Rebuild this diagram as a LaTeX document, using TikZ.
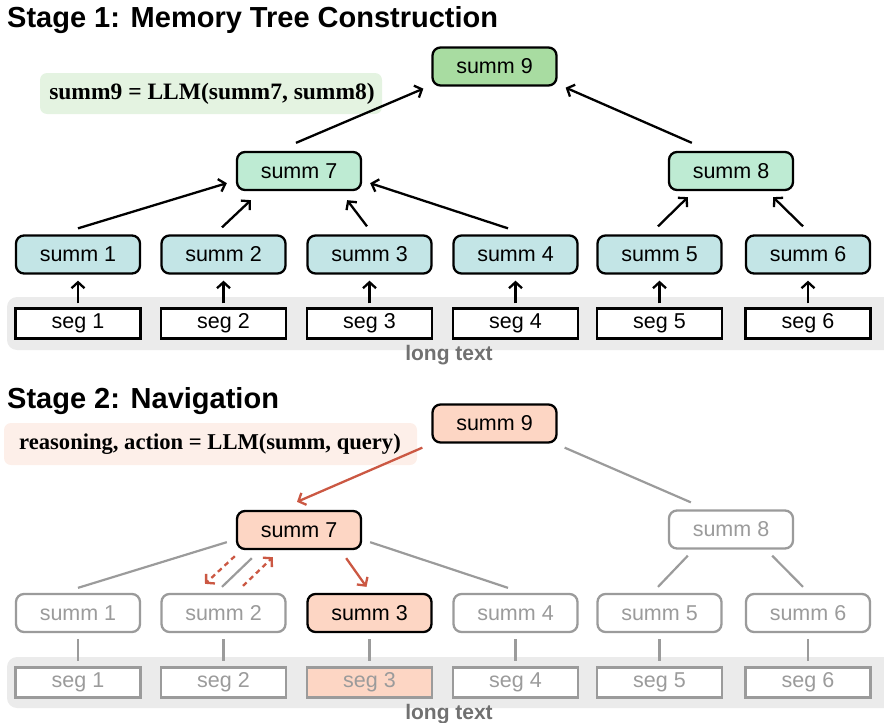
\documentclass[tikz,border=0pt]{standalone}
\usepackage{fontspec}
\setmainfont{Liberation Sans}
\newfontfamily\serfont{Liberation Serif}
\usetikzlibrary{arrows.meta}
\definecolor{rootgreen}{HTML}{A8DCA1}
\definecolor{midgreen}{HTML}{BEEBD3}
\definecolor{leafcyan}{HTML}{C3E5E6}
\definecolor{formgreen}{HTML}{E4F3E1}
\definecolor{formpink}{HTML}{FDEFE9}
\definecolor{salmon}{HTML}{FDD6C4}
\definecolor{navred}{HTML}{CB5843}
\definecolor{bggrey}{HTML}{EBEBEB}
\definecolor{lgrey}{HTML}{9B9B9B}
\definecolor{labgrey}{HTML}{717171}
\begin{document}
\begin{tikzpicture}[x=1pt,y=-1pt,
  boxtext/.style={font=\fontsize{21.5}{25}\selectfont},
  summbox/.style={boxtext,draw=black,line width=2.3pt,rounded corners=8pt,minimum width=124pt,minimum height=38pt,inner sep=0pt},
  segbox/.style={boxtext,draw=black,line width=2.3pt,fill=white,minimum width=125pt,minimum height=30pt,inner sep=0pt},
  greybox/.style={draw=lgrey,text=lgrey,fill=white},
  arr/.style={line width=2.3pt,-{Straight Barb[length=6pt,width=13pt]}},
  redarr/.style={line width=2.3pt,draw=navred,-{Straight Barb[length=6pt,width=13pt]}},
  reddash/.style={redarr,dash pattern=on 5pt off 4pt},
  greyline/.style={line width=2.2pt,draw=lgrey},
  title/.style={anchor=base west,inner sep=0pt,font=\fontsize{29}{33}\selectfont\bfseries},
  formula/.style={rounded corners=7pt,inner sep=0pt,font=\serfont\bfseries\fontsize{23.5}{27}\selectfont},
  longtext/.style={inner sep=0pt,text=labgrey,font=\fontsize{21}{24}\selectfont\bfseries}
]
\useasboundingbox (0,0) rectangle (884,723);

% ---------------- Stage 1 ----------------
\node[title] (t1) at (7,27) {Stage 1: Memory Tree Construction};
\fill[formgreen,rounded corners=7pt] (40,73) rectangle (382,114);
\node[formula] (f1) at (212,94) {summ9 = LLM(summ7, summ8)};

\fill[bggrey,rounded corners=10pt] (7,297) rectangle (894,350);
\node[longtext] (lt1) at (449,355) {long text};

\node[summbox,fill=rootgreen] (A9) at (494.5,66.5) {summ 9};
\node[summbox,fill=midgreen] (A7) at (299,171) {summ 7};
\node[summbox,fill=midgreen] (A8) at (731,171) {summ 8};
\foreach \i/\x in {1/78,2/223.5,3/369.5,4/515.5,5/659.5,6/808}{
  \node[summbox,fill=leafcyan] (A\i) at (\x,254.5) {summ \i};
  \node[segbox] (S\i) at (\x,323.5) {seg \i};
  \draw[arr,shorten <=4pt,shorten >=6pt] (S\i) -- (A\i);
}
\draw[arr] ([yshift=6pt]A1.north) -- ([xshift=-9pt,yshift=8pt]A7.south west);
\draw[arr] ([xshift=-1.5pt,yshift=7pt]A2.north) -- ([xshift=15pt,yshift=-9pt]A7.south west);
\draw[arr] ([xshift=-2.5pt,yshift=8pt]A3.north) -- ([xshift=-15pt,yshift=-9pt]A7.south east);
\draw[arr] ([xshift=-7.5pt,yshift=6pt]A4.north) -- ([xshift=8pt,yshift=8pt]A7.south east);
\draw[arr] ([xshift=-1.5pt,yshift=8pt]A5.north) -- ([xshift=20pt,yshift=-6pt]A8.south west);
\draw[arr] ([xshift=-5pt,yshift=8pt]A6.north) -- ([xshift=-21pt,yshift=-6pt]A8.south east);
\draw[arr] ([xshift=-3pt,yshift=8pt]A7.north) -- ([xshift=-8pt,yshift=-2pt]A9.south west);
\draw[arr] ([xshift=24pt,yshift=8pt]A8.north west) -- ([xshift=8pt,yshift=-1pt]A9.south east);

% ---------------- Stage 2 ----------------
\node[title] (t2) at (7,408) {Stage 2: Navigation};
\fill[formpink,rounded corners=7pt] (4,423) rectangle (417,465);
\node[formula,font=\serfont\bfseries\fontsize{22.6}{26}\selectfont] (f2) at (210,444) {reasoning, action = LLM(summ, query)};

\fill[bggrey,rounded corners=10pt] (7,657) rectangle (894,708);
\node[longtext] (lt2) at (449,714) {long text};

\node[summbox,fill=salmon] (B9) at (494.5,423.5) {summ 9};
\node[summbox,fill=salmon] (B7) at (299,530) {summ 7};
\node[summbox,greybox] (B8) at (731,529.5) {summ 8};
\foreach \i/\x in {1/78,2/223.5,4/515.5,5/659.5,6/808}{
  \node[summbox,greybox] (B\i) at (\x,613) {summ \i};
  \node[segbox,greybox] (T\i) at (\x,682.5) {seg \i};
  \draw[greyline,shorten <=6pt,shorten >=5pt] (B\i) -- (T\i);
}
\node[summbox,fill=salmon] (B3) at (369.5,613) {summ 3};
\node[segbox,draw=lgrey,text=lgrey,fill=salmon] (T3) at (369.5,682.5) {seg 3};
\draw[greyline,shorten <=6pt,shorten >=5pt] (B3) -- (T3);

\draw[redarr] ([xshift=-9pt,yshift=-4pt]B9.south west) -- ([xshift=-2pt,yshift=8pt]B7.north);
\draw[greyline] ([xshift=7pt,yshift=-4pt]B9.south east) -- ([xshift=23pt,yshift=7pt]B8.north west);
\draw[greyline] ([xshift=-9pt,yshift=8pt]B7.south west) -- ([yshift=5pt]B1.north);
\draw[greyline] ([xshift=16pt,yshift=-8pt]B7.south west) -- ([xshift=-1.5pt,yshift=6pt]B2.north);
\draw[reddash] ([xshift=-1pt,yshift=-6pt]B7.south west) -- ([xshift=-18.5pt,yshift=9pt]B2.north);
\draw[reddash] ([xshift=19.5pt,yshift=7pt]B2.north) -- ([xshift=37pt,yshift=-7pt]B7.south west);
\draw[redarr] ([xshift=-16pt,yshift=-8pt]B7.south east) -- ([xshift=-3pt,yshift=6pt]B3.north);
\draw[greyline] ([xshift=8pt,yshift=8pt]B7.south east) -- ([xshift=-7.5pt,yshift=5pt]B4.north);
\draw[greyline] ([xshift=20pt,yshift=-6pt]B8.south west) -- ([xshift=-1.5pt,yshift=6pt]B5.north);
\draw[greyline] ([xshift=-22pt,yshift=-6pt]B8.south east) -- ([xshift=-5pt,yshift=6pt]B6.north);
\end{tikzpicture}
\end{document}
